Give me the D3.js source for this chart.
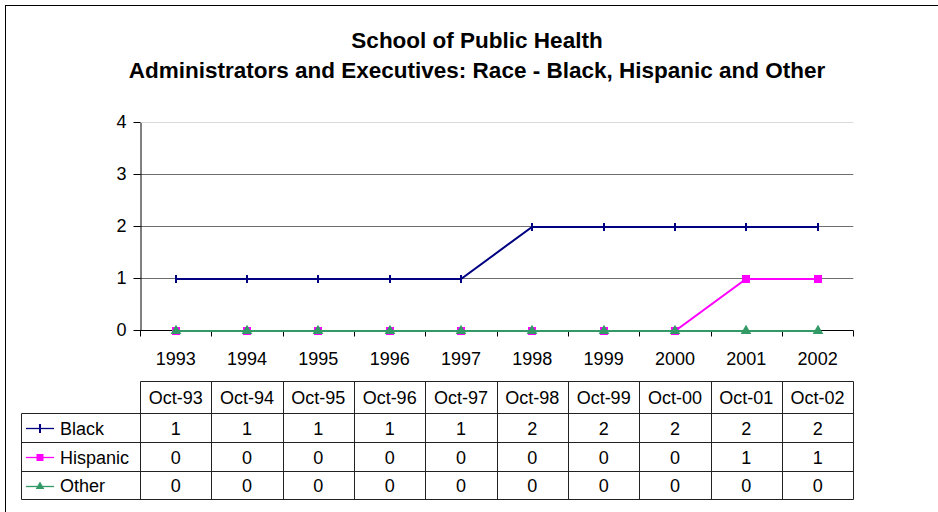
<!DOCTYPE html>
<html>
<head>
<meta charset="utf-8">
<script src="https://cdn.jsdelivr.net/npm/d3@7"></script>
<style>
  html, body { margin: 0; padding: 0; background: #fff; }
  svg { display: block; }
  text { font-family: "Liberation Sans", Arial, sans-serif; fill: #000; }
</style>
</head>
<body>
<script>
// ---- data ----
const years = ["1993","1994","1995","1996","1997","1998","1999","2000","2001","2002"];
const tableHeaders = ["Oct-93","Oct-94","Oct-95","Oct-96","Oct-97","Oct-98","Oct-99","Oct-00","Oct-01","Oct-02"];
const seriesNames = ["Black","Hispanic","Other"];
const blackValues = [1,1,1,1,1,2,2,2,2,2];
const hispanicValues = [0,0,0,0,0,0,0,0,1,1];
const otherValues = [0,0,0,0,0,0,0,0,0,0];
const yTicks = [0,1,2,3,4];
const titleLines = ["School of Public Health", "Administrators and Executives: Race - Black, Hispanic and Other"];

const series = [
  { name: seriesNames[0], values: blackValues, color: "#000080", marker: "plus" },
  { name: seriesNames[1], values: hispanicValues, color: "#FF00FF", marker: "square" },
  { name: seriesNames[2], values: otherValues, color: "#339966", marker: "triangle" }
];

const W = 938, H = 512;
const svg = d3.select("body").append("svg").attr("width", W).attr("height", H);

// outer frame
svg.append("rect").attr("x", 5.5).attr("y", 5.5).attr("width", W + 20).attr("height", H + 20)
  .attr("fill", "#fff").attr("stroke", "#000").attr("stroke-width", 1);

// title
svg.append("g").selectAll("text").data(titleLines).join("text")
  .attr("x", 477).attr("y", (d, i) => 48 + i * 29.5)
  .attr("text-anchor", "middle").attr("font-weight", "bold").attr("font-size", "22.5px")
  .text(d => d);

const pLeft = 140, pRight = 853.3, pTop = 122.5, pBottom = 330.5;
const x = d3.scaleBand().domain(years).range([pLeft, pRight]);
const y = d3.scaleLinear().domain([0, 4]).range([pBottom, pTop]);
const py = v => Math.floor(y(v)) + 0.5;   // crisp pixel row

// gridlines
svg.append("g").selectAll("line").data(yTicks.filter(t => t > 0)).join("line")
  .attr("x1", pLeft).attr("x2", pRight)
  .attr("y1", d => py(d)).attr("y2", d => py(d))
  .attr("stroke", d => d === 4 ? "#d9d9d9" : "#6e6e6e").attr("stroke-width", 1);

// y axis
const yAxis = svg.append("g").attr("transform", `translate(${pLeft + 0.5},0)`)
  .call(d3.axisLeft(y).tickValues(yTicks).tickFormat(d3.format("d")).tickSizeOuter(0).tickSizeInner(7).tickPadding(7));
yAxis.selectAll("text").attr("font-size", "18px").attr("font-family", "Liberation Sans, Arial, sans-serif").attr("fill", "#000");
yAxis.selectAll("line, path").attr("stroke", "#000");
yAxis.selectAll(".tick").attr("transform", d => `translate(0,${py(d)})`);

// x axis (ticks at category boundaries)
const xAxisG = svg.append("g").attr("transform", `translate(0,${py(0)})`);
xAxisG.append("line").attr("x1", pLeft).attr("x2", pRight).attr("stroke", "#000");
const bounds = years.map(d => x(d)).concat([pRight]);
xAxisG.selectAll("line.tk").data(bounds).join("line").attr("class", "tk")
  .attr("x1", d => Math.round(d) + 0.5).attr("x2", d => Math.round(d) + 0.5)
  .attr("y1", 0).attr("y2", 6).attr("stroke", "#000");
xAxisG.selectAll("text").data(years).join("text")
  .attr("x", d => x(d) + x.bandwidth() / 2).attr("y", 34)
  .attr("text-anchor", "middle").attr("font-size", "18px").text(d => d);

// lines & markers
const cx = d => x(d) + x.bandwidth() / 2;
function drawMarker(g, type, color, size) {
  if (type === "plus") {
    g.append("line").attr("x1", 0).attr("x2", 0).attr("y1", -size / 2).attr("y2", size / 2)
      .attr("stroke", color).attr("stroke-width", 2);
  } else if (type === "square") {
    g.append("rect").attr("x", -size / 2).attr("y", -size / 2).attr("width", size).attr("height", size)
      .attr("fill", color);
  } else {
    g.append("path").attr("d", d3.symbol(d3.symbolTriangle, size * size * 0.5)()).attr("fill", color);
  }
}
const lineGen = d3.line().x((d, i) => Math.round(cx(years[i]))).y(d => Math.floor(y(d)) + 1);
series.forEach(s => {
  svg.append("path").datum(s.values).attr("d", lineGen)
    .attr("fill", "none").attr("stroke", s.color).attr("stroke-width", 2);
  s.values.forEach((v, i) => {
    const g = svg.append("g").attr("transform", `translate(${Math.round(cx(years[i]))},${Math.floor(y(v)) + 1})`);
    drawMarker(g, s.marker, s.color, s.marker === "triangle" ? 10 : 8);
  });
});

// data table
const tTop = 381.5, hRow = 413.5, rowH = [442.5, 471.5, 499.5], tLeft = 21.5;
const rowEdges = [hRow].concat(rowH);
const tbl = svg.append("g");
tbl.selectAll("text.hdr").data(tableHeaders).join("text").attr("class", "hdr")
  .attr("x", (d, i) => cx(years[i])).attr("y", (tTop + hRow) / 2 + 6.5)
  .attr("text-anchor", "middle").attr("font-size", "18px").text(d => d);
series.forEach((s, r) => {
  const yc = (rowEdges[r] + rowEdges[r + 1]) / 2 + 6.5;
  tbl.selectAll(null).data(s.values).join("text")
    .attr("x", (d, i) => cx(years[i])).attr("y", yc)
    .attr("text-anchor", "middle").attr("font-size", "18px").text(d => d);
  const ym = Math.round((rowEdges[r] + rowEdges[r + 1]) / 2) + 0.5;
  tbl.append("line").attr("x1", 26).attr("x2", 54).attr("y1", ym).attr("y2", ym)
    .attr("stroke", s.color).attr("stroke-width", 1.3);
  const g = tbl.append("g").attr("transform", `translate(40,${ym})`);
  drawMarker(g, s.marker, s.color, s.marker === "plus" ? 9 : (s.marker === "triangle" ? 8 : 7));
  tbl.append("text").attr("x", 60).attr("y", yc).attr("font-size", "18px").text(s.name);
});
const colX = bounds.map(d => Math.round(d) + 0.5);
const lineStroke = "#222";
tbl.append("line").attr("x1", colX[0]).attr("x2", colX[colX.length - 1]).attr("y1", tTop).attr("y2", tTop).attr("stroke", lineStroke);
rowEdges.forEach(yy => {
  tbl.append("line").attr("x1", tLeft).attr("x2", colX[colX.length - 1]).attr("y1", yy).attr("y2", yy).attr("stroke", lineStroke);
});
colX.forEach(xx => {
  tbl.append("line").attr("x1", xx).attr("x2", xx).attr("y1", tTop).attr("y2", rowEdges[3]).attr("stroke", lineStroke);
});
tbl.append("line").attr("x1", tLeft).attr("x2", tLeft).attr("y1", hRow).attr("y2", rowEdges[3]).attr("stroke", lineStroke);
</script>
</body>
</html>
